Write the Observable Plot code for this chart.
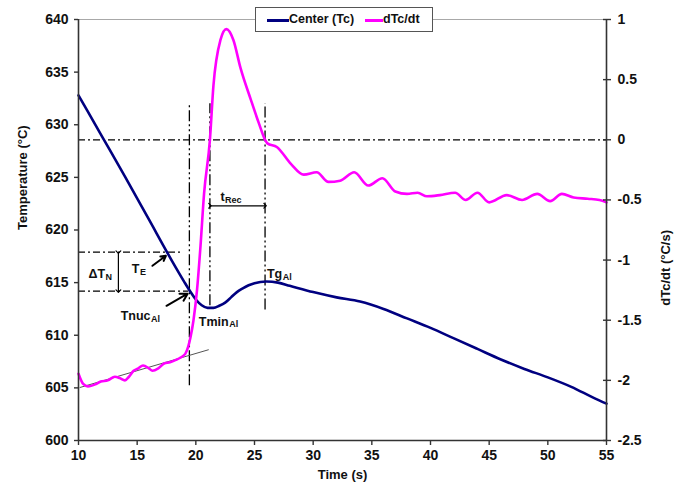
<!DOCTYPE html>
<html><head><meta charset="utf-8">
<script src="https://cdn.jsdelivr.net/npm/d3@7"></script>
<script src="https://cdn.jsdelivr.net/npm/@observablehq/plot@0.6"></script>
<style>
body{margin:0;background:#fff;font-family:"Liberation Sans",Arial,sans-serif;}
#wrap{position:relative;width:680px;height:488px;}
.legend{position:absolute;left:255px;top:7px;width:176px;height:23px;border:1px solid #555;background:#fff;font-weight:bold;font-size:12.5px;color:#111;}
.legend .sw{position:absolute;top:11px;height:3px;}
.legend .lb{position:absolute;top:4px;line-height:15px;white-space:nowrap;}
</style></head><body><div id="wrap"></div>
<script>
// ---- data ----
const timeTc = [10,12,14,16,18,19,19.5,20,20.5,21,21.5,22,22.5,23,23.5,24,24.5,25,26,27,28,30,32,34,36,38,40,42,44,46,48,50,52,54,55];
const tempTc = [632.8,628.9,625.0,621.0,617.0,615.1,614.2,613.4,612.85,612.6,612.6,612.8,613.1,613.6,614.1,614.45,614.75,614.95,615.1,615.0,614.7,614.1,613.6,613.2,612.5,611.6,610.7,609.7,608.7,607.7,606.8,606.0,605.1,604.0,603.5];
const timeRate = [10,10.4,10.8,11.5,11.9,12.5,13.1,13.5,13.96,14.3,14.7,15.1,15.5,16.0,16.3,16.8,17.3,17.8,18.3,18.7,19.1,19.35,19.55,19.8,20.1,20.4,20.7,21.2,21.5,22.1,22.6,23.2,23.8,24.7,25.4,25.9,26.1,26.9,28.1,29.2,30.3,31.3,32.3,33.5,34.7,35.9,37.0,38.0,38.9,39.7,40.8,42.1,43.0,44.0,45.0,46.5,47.8,49.1,50.2,51.2,52.2,53.4,54.4,55];
const rateVal = [-1.945,-2.03,-2.05,-2.03,-2.01,-2.0,-1.97,-1.98,-2.0,-1.97,-1.92,-1.9,-1.876,-1.9,-1.92,-1.9,-1.86,-1.85,-1.83,-1.81,-1.78,-1.72,-1.64,-1.5,-1.25,-0.88,-0.45,0,0.45,0.83,0.92,0.83,0.6,0.33,0.13,0,-0.03,-0.06,-0.2,-0.29,-0.27,-0.35,-0.34,-0.27,-0.38,-0.32,-0.43,-0.45,-0.44,-0.47,-0.46,-0.44,-0.5,-0.44,-0.52,-0.46,-0.5,-0.45,-0.51,-0.45,-0.48,-0.49,-0.5,-0.52];
const timeTicks = [10,15,20,25,30,35,40,45,50,55];
const tempTicks = [600,605,610,615,620,625,630,635,640];
const rateTicks = [-2.5,-2,-1.5,-1,-0.5,0,0.5,1];
const timeDomain = [10,55];
const tempDomain = [600,640];
const rateDomain = [-2.5,1];
const seriesNames = ["Center (Tc)","dTc/dt"];
const seriesColors = ["#000080","#ff00ff"];

// annotation values
const zeroRate = 0;
const vGuides = [{t:19.45, lo:605.2, hi:632.0},{t:21.2, lo:612.8, hi:632.0},{t:25.9, lo:612.4, hi:632.0}];
const hGuides = [{T:617.9, t1:10, t2:18.7},{T:614.2, t1:10, t2:19.4}];
const tangent = [{t1:10.1, r1:-2.06, t2:21.1, r2:-1.745}];
const dblArrows = [{t1:13.4, T1:617.9, t2:13.4, T2:614.2},{t1:21.2, T1:622.3, t2:25.9, T2:622.3}];
const ptrArrows = [{t1:16.3, T1:616.6, t2:17.45, T2:617.55},{t1:17.5, T1:612.8, t2:19.3, T2:613.95}];
const labels = [
  {t:12.26, T:615.8, main:"\u0394T", sub:"N"},
  {t:15.2, T:616.3, main:"T", sub:"E"},
  {t:16.14, T:611.8, main:"Tnuc", sub:"Al"},
  {t:22.8, T:611.3, main:"Tmin", sub:"Al"},
  {t:27.36, T:615.8, main:"Tg", sub:"Al"},
  {t:22.45, T:623.1, main:"t", sub:"Rec"}
];

// ---- build ----
const toT = v => tempDomain[0] + (v - rateDomain[0]) * (tempDomain[1]-tempDomain[0]) / (rateDomain[1]-rateDomain[0]);
const toRate = T => rateDomain[0] + (T - tempDomain[0]) * (rateDomain[1]-rateDomain[0]) / (tempDomain[1]-tempDomain[0]);
const tcRows = timeTc.map((t,i)=>({t, T:tempTc[i]}));
const rateRows = timeRate.map((t,i)=>({t, T:toT(rateVal[i])}));
const tanRows = tangent.map(d=>({t1:d.t1, T1:toT(d.r1), t2:d.t2, T2:toT(d.r2)}));
const axisColor = "#333";
const hDash = "7,3,2,3";
const vDash = "11,3,2,3,2,3";

const plot = Plot.plot({
  width:680, height:488,
  marginLeft:78, marginRight:74, marginTop:19, marginBottom:48,
  x:{domain:timeDomain},
  y:{domain:tempDomain},
  style:{fontFamily:"'Liberation Sans', Arial, sans-serif", fontSize:"14px", fontWeight:"bold", background:"white", color:"#111", overflow:"visible"},
  marks:[
    Plot.ruleY([tempDomain[1]], {stroke:"#a8a8a8", strokeWidth:1}),
    Plot.ruleY([toT(zeroRate)], {stroke:"#000", strokeWidth:1.3, strokeDasharray:hDash}),
    Plot.ruleY(hGuides, {y:"T", x1:"t1", x2:"t2", stroke:"#000", strokeWidth:1.3, strokeDasharray:hDash}),
    Plot.ruleX(vGuides, {x:"t", y1:"lo", y2:"hi", stroke:"#000", strokeWidth:1.3, strokeDasharray:vDash}),
    Plot.link(tanRows, {x1:"t1", y1:"T1", x2:"t2", y2:"T2", stroke:"#555", strokeWidth:1}),
    Plot.line(tcRows, {x:"t", y:"T", stroke:seriesColors[0], strokeWidth:2.6, curve:"monotone-x"}),
    Plot.line(rateRows, {x:"t", y:"T", stroke:seriesColors[1], strokeWidth:2.6, curve:"monotone-x"}),
    Plot.link(dblArrows, {x1:"t1", y1:"T1", x2:"t2", y2:"T2", stroke:"#000", strokeWidth:1.2, markerStart:"arrow", markerEnd:"arrow"}),
    Plot.arrow(ptrArrows, {x1:"t1", y1:"T1", x2:"t2", y2:"T2", stroke:"#000", strokeWidth:2, headLength:8}),
    Plot.text(labels, {x:"t", y:"T", text:"main", textAnchor:"end", fontSize:12.5, fontWeight:"bold", fill:"#111"}),
    Plot.text(labels, {x:"t", y:"T", text:"sub", textAnchor:"start", dy:3, dx:0.5, fontSize:9, fontWeight:"bold", fill:"#111"}),
    Plot.ruleX([timeDomain[0]], {stroke:axisColor, strokeWidth:1.6}),
    Plot.ruleX([timeDomain[1]], {stroke:axisColor, strokeWidth:1.6}),
    Plot.ruleY([tempDomain[0]], {stroke:axisColor, strokeWidth:1.6}),
    Plot.axisX({ticks:timeTicks, tickSize:5, tickPadding:5, label:null, stroke:axisColor, strokeWidth:1.4}),
    Plot.axisY({ticks:tempTicks, tickSize:4, tickPadding:6, label:null, stroke:axisColor, strokeWidth:1.4}),
    Plot.axisY({anchor:"right", ticks:rateTicks.map(toT), tickFormat:d=>String(Math.round(toRate(d)*10)/10), tickSize:4, tickPadding:7, label:null, stroke:axisColor, strokeWidth:1.4}),
    Plot.axisY({anchor:"right", ticks:rateTicks.map(toT), tickFormat:()=>"", tickSize:4, dx:-4, label:null, stroke:axisColor, strokeWidth:1.4}),
    Plot.text(["Temperature (\u00b0C)"], {frameAnchor:"left", rotate:-90, dx:-56, text:d=>d, fontSize:13, fontWeight:"bold", fill:"#111"}),
    Plot.text(["dTc/dt (\u00b0C/s)"], {frameAnchor:"right", rotate:-90, dx:59, text:d=>d, fontSize:13, fontWeight:"bold", fill:"#111"}),
    Plot.text(["Time (s)"], {frameAnchor:"bottom", dy:38, text:d=>d, fontSize:13, fontWeight:"bold", fill:"#111"})
  ]
});
const wrap = document.getElementById("wrap");
wrap.appendChild(plot);
const lg = document.createElement("div");
lg.className = "legend";
lg.innerHTML =
  `<span class="sw" style="left:11px;width:22px;background:${seriesColors[0]}"></span><span class="lb" style="left:33px">${seriesNames[0]}</span>` +
  `<span class="sw" style="left:109px;width:18px;background:${seriesColors[1]}"></span><span class="lb" style="left:127px">${seriesNames[1]}</span>`;
wrap.appendChild(lg);
</script></body></html>
